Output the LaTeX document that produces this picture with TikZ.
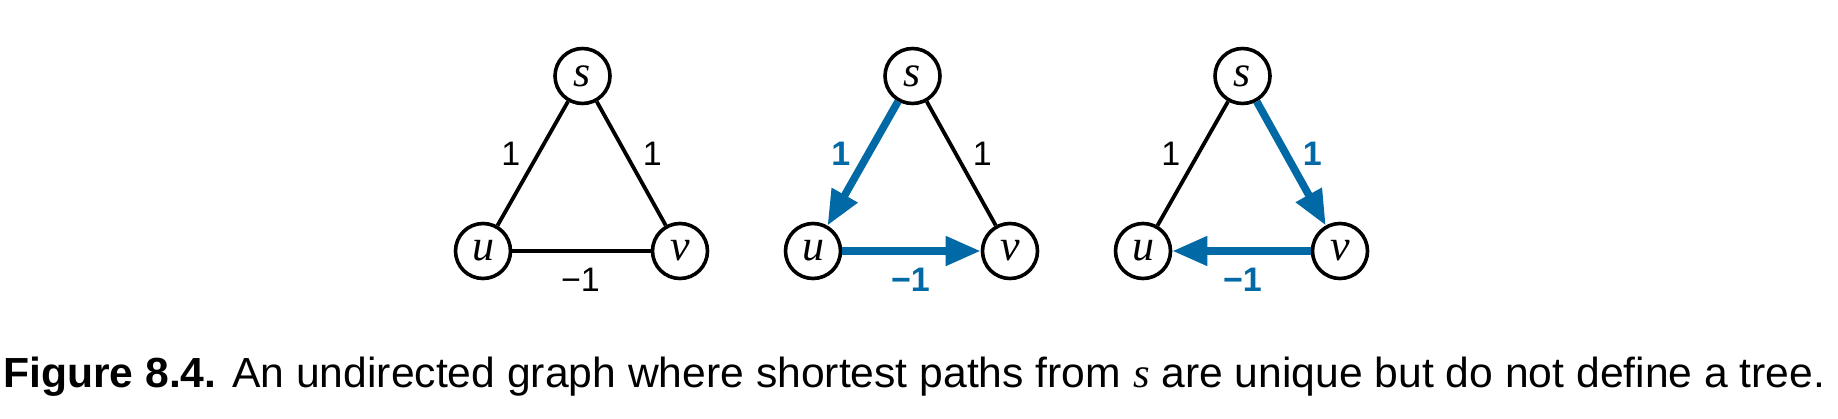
\documentclass[tikz,border=0pt]{standalone}
\usepackage{fontspec}
\setmainfont{Liberation Sans}
\newfontfamily\varfont{Liberation Serif}
\newcommand{\vname}[1]{{\varfont\itshape #1}}
\usetikzlibrary{arrows.meta}
\definecolor{pathblue}{RGB}{0,105,166}
\begin{document}
\begin{tikzpicture}[x=1pt,y=-1pt,
  vertex/.style={circle,draw,line width=3.6pt,minimum size=55pt,inner sep=0pt,
    font=\fontsize{44}{44}\selectfont},
  edge/.style={line width=3.8pt},
  tree/.style={line width=7.6pt,draw=pathblue,-{Triangle[length=35pt,width=28pt]}},
  wlabel/.style={font=\fontsize{34}{34}\selectfont,inner sep=0pt},
  blabel/.style={font=\fontsize{34}{34}\selectfont\bfseries,text=pathblue,inner sep=0pt},
  lblL/.style={midway,xshift=-22pt,yshift=10pt},
  lblR/.style={midway,xshift=21pt,yshift=10pt},
  lblB/.style={midway,xshift=-1pt,yshift=-29pt}]
\useasboundingbox (0,0) rectangle (1838,418);

% graph 1
\node[vertex] (s1) at (582.5,76) {\vname{s}};
\node[vertex] (u1) at (483,251) {\vname{u}};
\node[vertex] (v1) at (680,251) {\vname{v}};
\draw[edge] (s1) -- node[wlabel,lblL] {1} (u1);
\draw[edge] (s1) -- node[wlabel,lblR] {1} (v1);
\draw[edge] (u1) -- node[wlabel,lblB] {−1} (v1);

% graph 2
\node[vertex] (s2) at (912.5,76) {\vname{s}};
\node[vertex] (u2) at (813,251) {\vname{u}};
\node[vertex] (v2) at (1010,251) {\vname{v}};
\draw[tree] (s2) -- node[blabel,lblL] {1} (u2);
\draw[edge] (s2) -- node[wlabel,lblR] {1} (v2);
\draw[tree] (u2) -- node[blabel,lblB] {−1} (v2);

% graph 3
\node[vertex] (s3) at (1242.5,76) {\vname{s}};
\node[vertex] (u3) at (1143,251) {\vname{u}};
\node[vertex] (v3) at (1340,251) {\vname{v}};
\draw[edge] (s3) -- node[wlabel,lblL] {1} (u3);
\draw[tree] (s3) -- node[blabel,lblR] {1} (v3);
\draw[tree] (v3) -- node[blabel,midway,xshift=1pt,yshift=-29pt] {−1} (u3);

% caption
\node[anchor=base west,inner sep=0pt] (cap) at (3,387)
  {\resizebox{1822pt}{30.5pt}{\fontsize{42}{50}\selectfont\textbf{Figure 8.4.} An undirected graph where shortest paths from \vname{s} are unique but do not define a tree.}};
\end{tikzpicture}
\end{document}
